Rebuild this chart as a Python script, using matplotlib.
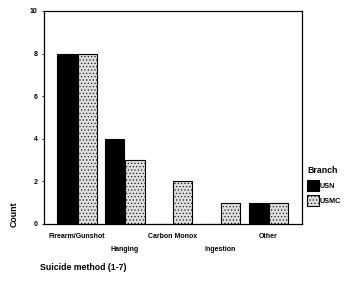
import matplotlib
matplotlib.use('Agg')
import matplotlib.pyplot as plt
import numpy as np

plt.rcParams['font.family'] = ['Liberation Sans', 'DejaVu Sans']
plt.rcParams['hatch.linewidth'] = 0.4

methods = ['Firearm/Gunshot', 'Hanging', 'Carbon Monox', 'Ingestion', 'Other']
branches = ['USN', 'USMC']
usn = [8, 4, 0, 0, 1]
usmc = [8, 3, 2, 1, 1]
yticks = [0, 2, 4, 6, 8, 10]

fig = plt.figure(figsize=(3.45, 2.82), dpi=100, facecolor='white')
ax = fig.add_axes([0.1275, 0.206, 0.748, 0.755])

x = np.arange(len(methods))
w = 0.40
b1 = ax.bar(x - w / 2 - 0.01, usn, w, color='black', edgecolor='black', lw=0.8, label=branches[0])
b2 = ax.bar(x + w / 2 + 0.01, usmc, w, color='#dcdcdc', edgecolor='black', lw=0.8,
            hatch='.....', label=branches[1])

ax.set_xlim(-0.69, 4.7)
ax.set_ylim(0, 10)
ax.set_yticks(yticks)
ax.set_yticklabels([str(t) for t in yticks], fontsize=5, fontweight='bold')
ax.tick_params(axis='y', length=1.5, width=0.6, pad=3)
ax.set_xticks([])
for s in ax.spines.values():
    s.set_linewidth(0.9)

# staggered category labels
for i, m in enumerate(methods):
    yoff = -0.058 if i % 2 == 0 else -0.12
    ax.text(x[i], yoff, m, transform=ax.get_xaxis_transform(), ha='center', va='center',
            fontsize=5, fontweight='bold')

fig.text(0.115, 0.05, 'Suicide method (1-7)', fontsize=6.3, fontweight='bold', ha='left', va='center')
fig.text(0.042, 0.24, 'Count', fontsize=6.3, fontweight='bold', rotation=90, ha='center', va='center')

leg = fig.legend(handles=[b1, b2], loc='upper left', bbox_to_anchor=(0.89, 0.41),
                 title='Branch', frameon=False, fontsize=5.2, title_fontsize=6.3,
                 handlelength=1.7, handleheight=2.0, handletextpad=0.1, labelspacing=0.6,
                 borderaxespad=0, borderpad=0)
leg._legend_box.align = 'left'
for t in leg.get_texts():
    t.set_fontweight('bold')
leg.get_title().set_fontweight('bold')

fig.savefig('out.png', dpi=100, facecolor='white')
